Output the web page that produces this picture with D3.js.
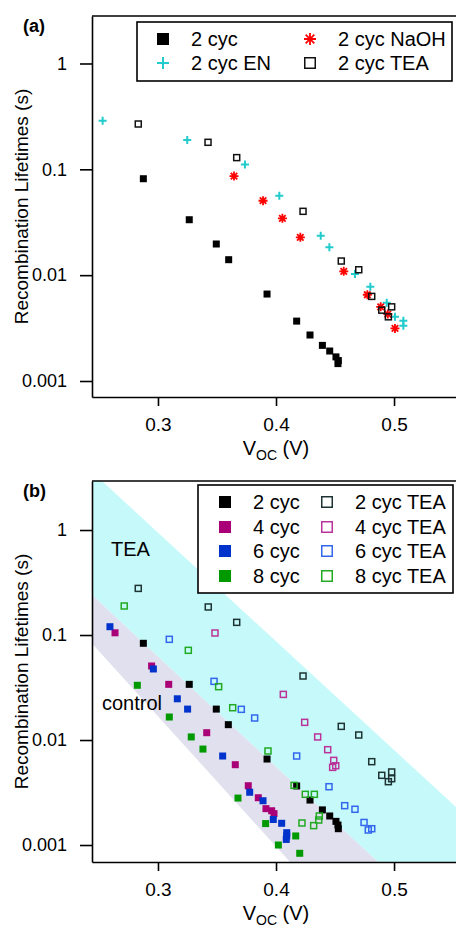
<!DOCTYPE html>
<html><head><meta charset="utf-8">
<script src="https://cdn.jsdelivr.net/npm/d3@7"></script>
<style>body{margin:0;background:#fff}svg{display:block;font-family:"Liberation Sans",Arial,sans-serif}</style>
</head><body><svg id="c" width="456" height="927"></svg>
<script>
// ---------------- DATA ----------------
// Panel (a): [Voc (V), lifetime (s)]
const a2cyc = [[0.2876,0.0815],[0.3265,0.0334],[0.3494,0.0197],[0.3599,0.0140],[0.3924,0.00663],[0.4175,0.00368],[0.4288,0.00272],[0.4393,0.00217],[0.4455,0.00192],[0.4508,0.00169],[0.4528,0.00156],[0.4525,0.00146]];
const a2cycEN = [[0.2531,0.288],[0.3248,0.189],[0.3737,0.111],[0.4028,0.0563],[0.4379,0.0236],[0.4452,0.0184],[0.4669,0.01024],[0.4799,0.00777],[0.4938,0.00548],[0.5008,0.00404],[0.5079,0.00371],[0.5079,0.00333]];
const a2cycNaOH = [[0.3644,0.0864],[0.389,0.0505],[0.4054,0.0344],[0.4206,0.0228],[0.4574,0.01086],[0.4774,0.00653],[0.4887,0.00502],[0.4947,0.00429],[0.5008,0.00314]];
const a2cycTEA = [[0.2833,0.268],[0.3424,0.18],[0.3667,0.129],[0.4229,0.0401],[0.4553,0.0136],[0.4701,0.01125],[0.4811,0.0063],[0.4980,0.00502],[0.4896,0.00467],[0.4952,0.00404]];

// Panel (b)
const b2cyc = [[0.2876,0.0834],[0.3265,0.0339],[0.3494,0.0197],[0.3596,0.0140],[0.3924,0.00659],[0.4175,0.00365],[0.4288,0.00268],[0.4393,0.00216],[0.4455,0.00189],[0.4508,0.00168],[0.4525,0.00155],[0.4528,0.00143]];
const b4cyc = [[0.2636,0.105],[0.2946,0.0507],[0.3091,0.0339],[0.3413,0.01174],[0.3655,0.00582],[0.3765,0.00367],[0.3850,0.00282],[0.3915,0.00222],[0.3963,0.00212],[0.3983,0.00199]];
const b6cyc = [[0.2593,0.120],[0.2961,0.0475],[0.3164,0.0247],[0.3251,0.0197],[0.3548,0.00704],[0.3777,0.00318],[0.3890,0.00264],[0.3977,0.00175],[0.4048,0.00161],[0.4091,0.00131],[0.4091,0.00122],[0.4087,0.00113]];
const b8cyc = [[0.2825,0.0332],[0.3096,0.01656],[0.3282,0.0107],[0.3381,0.0082],[0.3678,0.0028],[0.3912,0.0016],[0.4167,0.00122],[0.4020,0.0010],[0.4201,0.000834]];
const b2cycTEA = [[0.2833,0.278],[0.3426,0.185],[0.3667,0.132],[0.4229,0.0407],[0.4553,0.01349],[0.4701,0.01116],[0.4811,0.00622],[0.4980,0.00496],[0.4896,0.00461],[0.4980,0.00428],[0.4952,0.00401]];
const b4cycTEA = [[0.3483,0.1045],[0.4062,0.0272],[0.4243,0.01473],[0.4353,0.0107],[0.4438,0.00809],[0.4489,0.0064],[0.4506,0.00569],[0.4480,0.00549]];
const b6cycTEA = [[0.3096,0.091],[0.3475,0.0362],[0.3706,0.0196],[0.3819,0.0162],[0.4175,0.00704],[0.4449,0.00359],[0.4582,0.00237],[0.4669,0.00219],[0.4746,0.00164],[0.4782,0.00139],[0.4811,0.00143]];
const b8cycTEA = [[0.2714,0.189],[0.3257,0.0715],[0.3514,0.0322],[0.3633,0.0203],[0.3932,0.00786],[0.4153,0.0037],[0.4248,0.00304],[0.4325,0.00304],[0.4367,0.00189],[0.4362,0.00173],[0.4220,0.00162],[0.4319,0.00153]];

// Shaded bands in panel (b) (data coordinates)
const bandTEA = [[0.2441,2.93],[0.2525,2.93],[0.5525,0.0023],[0.5525,0.000689],[0.4864,0.000689],[0.2441,0.24]];
const bandControl = [[0.2441,0.24],[0.4864,0.000689],[0.4119,0.000689],[0.2441,0.083]];

// Axis ticks
const xMajor = [0.3,0.4,0.5];
const xMinor = [0.25,0.35,0.45,0.55];
const yMajor = [0.001,0.01,0.1,1];
const yMajorLabels = ["0.001","0.01","0.1","1"];
const xDomain = [0.2441,0.5525];

// ---------------- DRAW ----------------
const svg = d3.select("#c");
const X0 = 92, X1 = 456;

function marker(g, type, color, s, cx, cy) {
  if (type === "fsq") {
    g.append("rect").attr("x", cx - s/2).attr("y", cy - s/2).attr("width", s).attr("height", s).attr("fill", color);
  } else if (type === "osq") {
    g.append("rect").attr("x", cx - s/2 + 0.75).attr("y", cy - s/2 + 0.75).attr("width", s - 1.5).attr("height", s - 1.5)
      .attr("fill", "none").attr("stroke", color).attr("stroke-width", 1.5);
  } else if (type === "plus") {
    const h = s/2;
    g.append("path").attr("d", `M${cx-h},${cy}H${cx+h}M${cx},${cy-h}V${cy+h}`).attr("stroke", color).attr("stroke-width", 2).attr("fill","none");
  } else if (type === "star") {
    const h = s/2, d = h*0.72;
    g.append("path").attr("d", `M${cx},${cy-h}V${cy+h}M${cx-d},${cy-d}L${cx+d},${cy+d}M${cx-d},${cy+d}L${cx+d},${cy-d}M${cx-h},${cy}H${cx+h}`)
      .attr("stroke", color).attr("stroke-width", 1.8).attr("fill","none");
  }
}

function panel(cfg) {
  const x = d3.scaleLinear().domain(xDomain).range([X0, X1]);
  const y = d3.scaleLog().domain(cfg.yDomain).range([cfg.bottom, cfg.top]);
  const g = svg.append("g");

  if (cfg.bands) {
    const clipId = "clip" + cfg.name;
    svg.append("clipPath").attr("id", clipId).append("rect")
      .attr("x", X0).attr("y", cfg.top).attr("width", X1 - X0).attr("height", cfg.bottom - cfg.top);
    const line = d3.line().x(d => x(d[0])).y(d => y(d[1]));
    g.append("path").attr("d", line(bandTEA) + "Z").attr("fill", "#c6f9f9").attr("clip-path", `url(#${clipId})`);
    g.append("path").attr("d", line(bandControl) + "Z").attr("fill", "#e1e0ee").attr("clip-path", `url(#${clipId})`);
  }

  // frame top line
  g.append("line").attr("x1", X0).attr("x2", X1).attr("y1", cfg.top).attr("y2", cfg.top).attr("stroke", "#000").attr("stroke-width", 1.6);

  // y axis
  const [lo, hi] = cfg.yDomain;
  const yMinor = [];
  for (let e = -4; e <= 1; e++) for (let m = 2; m <= 9; m++) { const v = m * Math.pow(10, e); if (v >= lo && v <= hi) yMinor.push(v); }
  const ya = g.append("g").attr("transform", `translate(${X0},0)`);
  ya.call(d3.axisLeft(y).tickValues(yMinor).tickSize(7).tickSizeOuter(0).tickFormat(""));
  ya.call(d3.axisLeft(y).tickValues(yMajor).tickSize(12).tickSizeOuter(0).tickPadding(13)
    .tickFormat((d, i) => yMajorLabels[i]));
  ya.selectAll("path,line").attr("stroke", "#000").attr("stroke-width", 1.6);
  ya.selectAll("text").attr("font-size", 18).attr("fill", "#000").attr("font-family", '"Liberation Sans",Arial,sans-serif');

  // x axis
  const xa = g.append("g").attr("transform", `translate(0,${cfg.bottom})`);
  xa.call(d3.axisBottom(x).tickValues(xMinor).tickSize(5).tickSizeOuter(0).tickFormat(""));
  xa.call(d3.axisBottom(x).tickValues(xMajor).tickSize(9).tickSizeOuter(0).tickPadding(12).tickFormat(d3.format(".1f")));
  xa.selectAll("path,line").attr("stroke", "#000").attr("stroke-width", 1.6);
  xa.selectAll("text").attr("font-size", 19).attr("fill", "#000").attr("font-family", '"Liberation Sans",Arial,sans-serif');

  // axis titles
  const xt = g.append("text").attr("x", x(0.4)).attr("y", cfg.bottom + 58).attr("text-anchor", "middle").attr("font-size", 20);
  xt.append("tspan").text("V");
  xt.append("tspan").attr("font-size", 14).attr("dy", 5).text("OC");
  xt.append("tspan").attr("dy", -5).text(" (V)");
  g.append("text").attr("transform", `translate(28,${(cfg.top + cfg.bottom) / 2}) rotate(-90)`)
    .attr("text-anchor", "middle").attr("font-size", 19).text("Recombination Lifetimes (s)");

  // panel label
  g.append("text").attr("x", 23).attr("y", cfg.top + 16).attr("font-size", 18).attr("font-weight", "bold").text(cfg.label);

  // points
  const pg = g.append("g");
  cfg.series.forEach(s => s.data.forEach(d => marker(pg, s.type, s.color, s.size, x(d[0]), y(d[1]))));

  // legend
  const L = cfg.legend;
  const lg = g.append("g");
  lg.append("rect").attr("x", L.x0).attr("y", L.y0).attr("width", L.x1 - L.x0).attr("height", L.y1 - L.y0)
    .attr("fill", "#fff").attr("stroke", "#000").attr("stroke-width", 1.6);
  cfg.series.forEach((s, i) => {
    const col = L.colOf(i), row = L.rowOf(i);
    const cy = L.rows[row];
    marker(lg, s.type, s.color, 12, L.mx[col], cy);
    lg.append("text").attr("x", L.tx[col]).attr("y", cy + 7).attr("font-size", 20).text(s.name);
  });

  (cfg.notes || []).forEach(n => g.append("text").attr("x", n.x).attr("y", n.y).attr("font-size", 20).text(n.t));
}

panel({
  name: "a", label: "(a)", top: 16, bottom: 397, yDomain: [0.000706, 2.81],
  series: [
    {name: "2 cyc", data: a2cyc, type: "fsq", color: "#000", size: 7},
    {name: "2 cyc EN", data: a2cycEN, type: "plus", color: "#22cccc", size: 8},
    {name: "2 cyc NaOH", data: a2cycNaOH, type: "star", color: "#ff0000", size: 9},
    {name: "2 cyc TEA", data: a2cycTEA, type: "osq", color: "#111", size: 7.5}
  ],
  legend: {x0: 137, y0: 22, x1: 452, y1: 81, rows: [39, 63], mx: [163, 310], tx: [191, 338],
    colOf: i => [0, 0, 1, 1][i], rowOf: i => [0, 1, 0, 1][i]}
});

panel({
  name: "b", label: "(b)", top: 481, bottom: 862, yDomain: [0.000689, 2.93], bands: true,
  series: [
    {name: "2 cyc", data: b2cyc, type: "fsq", color: "#000", size: 7},
    {name: "4 cyc", data: b4cyc, type: "fsq", color: "#aa0077", size: 7},
    {name: "6 cyc", data: b6cyc, type: "fsq", color: "#0033cc", size: 7},
    {name: "8 cyc", data: b8cyc, type: "fsq", color: "#009900", size: 7},
    {name: "2 cyc TEA", data: b2cycTEA, type: "osq", color: "#1e3333", size: 7.5},
    {name: "4 cyc TEA", data: b4cycTEA, type: "osq", color: "#bb3399", size: 7.5},
    {name: "6 cyc TEA", data: b6cycTEA, type: "osq", color: "#3366ee", size: 7.5},
    {name: "8 cyc TEA", data: b8cycTEA, type: "osq", color: "#22aa22", size: 7.5}
  ],
  legend: {x0: 198, y0: 485, x1: 453, y1: 593, rows: [502, 527, 551, 576], mx: [225, 327], tx: [253, 355],
    colOf: i => (i < 4 ? 0 : 1), rowOf: i => i % 4},
  notes: [{t: "TEA", x: 111, y: 556}, {t: "control", x: 102, y: 710}]
});
</script></body></html>
